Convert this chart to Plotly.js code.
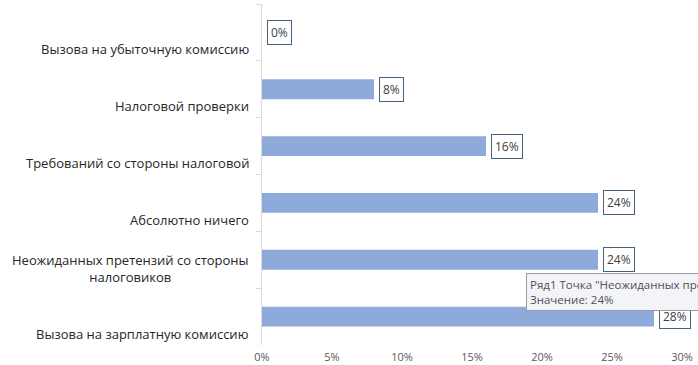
<!DOCTYPE html>
<html>
<head>
<meta charset="utf-8">
<script src="https://cdn.plot.ly/plotly-3.0.1.min.js"></script>
<style>html,body{margin:0;padding:0;background:#fff;}#chart{width:698px;height:365px;}</style>
</head>
<body>
<div id="chart"></div>
<script>
const categories = [
  "Вызова на убыточную комиссию",
  "Налоговой проверки",
  "Требований со стороны налоговой",
  "Абсолютно ничего",
  "Неожиданных претензий со стороны<br>налоговиков",
  "Вызова на зарплатную комиссию"
];
const values = [0, 8, 16, 24, 24, 28];
const xTickValues = [0, 5, 10, 15, 20, 25, 30];
const xTickLabels = ["0%", "5%", "10%", "15%", "20%", "25%", "30%"];
const tooltipText = 'Ряд1 Точка "Неожиданных претензий со стороны налоговиков"<br>Значение: 24%';
const tooltipIndex = 4;

const font = "Open Sans, Liberation Sans, Arial, sans-serif";

const annotations = [];
categories.forEach((c, i) => {
  annotations.push({
    xref: 'paper', yref: 'y', x: 0, y: c,
    text: c, showarrow: false, xanchor: 'right', yanchor: 'bottom',
    align: 'center', xshift: -11, yshift: -28,
    font: {family: font, size: 13, color: '#262626'}
  });
  annotations.push({
    xref: 'x', yref: 'y', x: values[i], y: c,
    text: values[i] + '%', showarrow: false, xanchor: 'left', yanchor: 'middle',
    xshift: 5, bordercolor: '#44627c', borderwidth: 1, borderpad: 3,
    bgcolor: '#ffffff',
    font: {family: font, size: 12, color: '#404040'}
  });
});
annotations.push({
  xref: 'x', yref: 'y', x: values[tooltipIndex], y: categories[tooltipIndex],
  text: tooltipText, showarrow: false, xanchor: 'left', yanchor: 'top', align: 'left',
  xshift: -72, yshift: -13, bordercolor: '#9a9a9a', borderwidth: 1, borderpad: 3,
  bgcolor: '#f3f4f8',
  font: {family: font, size: 11.5, color: '#505050'}
});

const trace = {
  type: 'bar', orientation: 'h',
  y: categories, x: values,
  marker: {color: '#8eaadb'},
  hoverinfo: 'none'
};

const layout = {
  width: 698, height: 365,
  margin: {l: 262, r: 16, t: 4, b: 20},
  paper_bgcolor: '#ffffff', plot_bgcolor: '#ffffff',
  bargap: 0.65,
  showlegend: false,
  xaxis: {
    range: [0, 30], tickmode: 'array', tickvals: xTickValues, ticktext: xTickLabels,
    showgrid: false, zeroline: false, showline: false, ticks: '',
    ticklabelstandoff: 4,
    tickfont: {family: font, size: 11, color: '#595959'},
    fixedrange: true
  },
  yaxis: {
    type: 'category', autorange: 'reversed',
    showticklabels: false, showgrid: false, zeroline: false,
    showline: true, linecolor: '#d9d9d9', linewidth: 1,
    ticks: 'outside', ticklen: 5, tickcolor: '#d9d9d9', tickson: 'boundaries',
    fixedrange: true
  },
  annotations: annotations
};

Plotly.newPlot('chart', [trace], layout, {displayModeBar: false, staticPlot: true});
</script>
</body>
</html>
